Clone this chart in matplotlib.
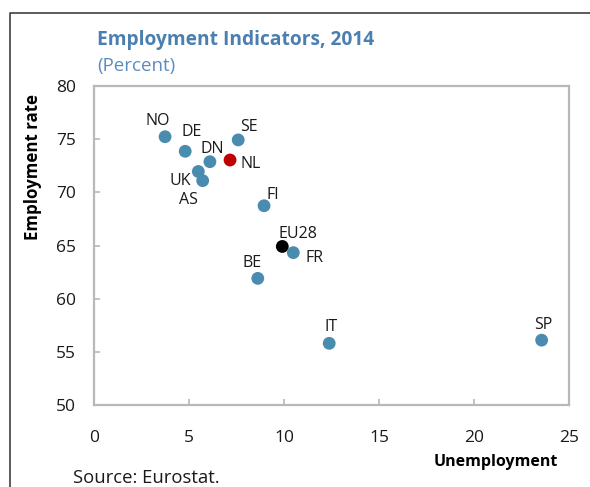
import matplotlib
matplotlib.use('Agg')
import matplotlib.pyplot as plt
from matplotlib.lines import Line2D

plt.rcParams['font.family'] = ['Open Sans', 'DejaVu Sans']

#---------------Data---------------------------------
countries = ['NO', 'DE', 'DN', 'NL', 'SE', 'UK', 'AS', 'FI', 'EU28', 'FR', 'BE', 'IT', 'SP']
unemployment = [3.74, 4.8, 6.1, 7.16, 7.59, 5.49, 5.72, 8.95, 9.91, 10.49, 8.62, 12.38, 23.56]
employment = [75.23, 73.86, 72.88, 73.04, 74.93, 71.96, 71.1, 68.74, 64.91, 64.33, 61.91, 55.8, 56.1]

x_ticks = [0, 5, 10, 15, 20, 25]
y_ticks = [50, 55, 60, 65, 70, 75, 80]

#---------------Styles-------------------------------
blue = '#4a8cb0'
highlight = {'NL': '#c00000', 'EU28': '#000000'}
# label offsets in points (dx, dy)
label_offsets = {
    'NO': (-5, 11), 'DE': (5, 14), 'DN': (2, 9), 'NL': (15, -3), 'SE': (8, 9),
    'UK': (-13, -7), 'AS': (-10, -14), 'FI': (6, 8), 'EU28': (11, 9),
    'FR': (15, -4), 'BE': (-4, 11), 'IT': (1, 12), 'SP': (1, 11),
}

fig = plt.figure(figsize=(5.9, 4.87), dpi=100)
ax = fig.add_axes([94/590, 1-405/487, 475/590, 319/487])

point_colors = [highlight.get(c, blue) for c in countries]
ax.scatter(unemployment, employment, s=85, c=point_colors, zorder=3, linewidths=0)

for name, xv, yv in zip(countries, unemployment, employment):
    dx, dy = label_offsets[name]
    ax.annotate(name, (xv, yv), xytext=(dx, dy), textcoords='offset points',
                ha='center', va='center', fontsize=11.5, color='#1a1a1a')

ax.set_xlim(0, 25)
ax.set_ylim(50, 80)
ax.set_xticks(x_ticks)
ax.set_yticks(y_ticks)
ax.tick_params(axis='both', direction='in', length=4, width=1.2, color='#b8b8b8',
               labelsize=12.5, labelcolor='#1a1a1a')
ax.tick_params(axis='x', pad=18)
ax.tick_params(axis='y', pad=13)
for sp in ax.spines.values():
    sp.set_color('#b8b8b8')
    sp.set_linewidth(1.6)

ax.set_xlabel('Unemployment', fontsize=11.5, fontweight='bold', loc='right', labelpad=4)
ax.xaxis.set_label_coords(0.976, -0.155)
ax.set_ylabel('Employment rate', fontsize=12.2, fontweight='bold', labelpad=6)
ax.yaxis.set_label_coords(-0.11, 0.745)

fig.text(97/590, 1-40/487, 'Employment Indicators, 2014', fontsize=13.8, fontweight='bold',
         color='#4a7fb0', va='center', ha='left')
fig.text(97/590, 1-66/487, '(Percent)', fontsize=13.5, color='#5b8cc0', va='center', ha='left')
fig.text(73/590, 1-478/487, 'Source: Eurostat.', fontsize=13.3, color='#1a1a1a', va='center', ha='left')

# outer frame around the figure panel
fig.add_artist(Line2D([10/590, 10/590, 1.0], [0.0, 1-13/487, 1-13/487],
                      transform=fig.transFigure, color='#404040', linewidth=1.2))

fig.savefig('out.png', dpi=100)
